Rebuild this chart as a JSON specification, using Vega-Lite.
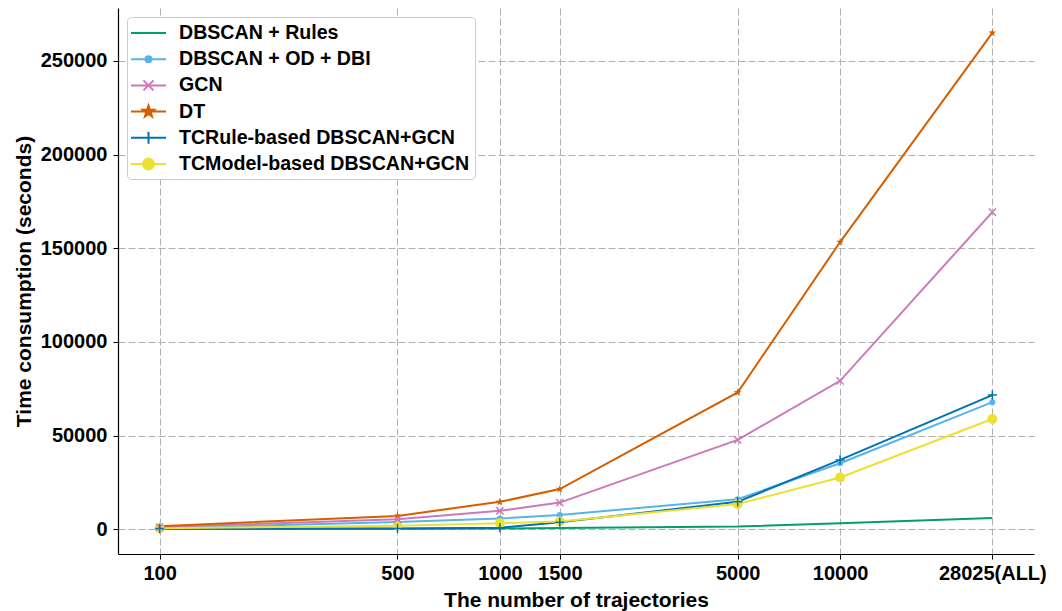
{
  "$schema": "https://vega.github.io/schema/vega-lite/v6.json",
  "width": 916,
  "height": 546,
  "autosize": {"type": "none"},
  "padding": {"left": 118, "top": 8, "right": 28, "bottom": 57},
  "background": "white",
  "config": {
    "view": {"stroke": null},
    "font": "Liberation Sans",
    "axis": {
      "domainColor": "black",
      "domainWidth": 1.2,
      "tickColor": "black",
      "tickSize": 5,
      "tickWidth": 1,
      "labelFont": "Liberation Sans",
      "labelFontSize": 20,
      "labelFontWeight": "bold",
      "labelColor": "black",
      "titleFont": "Liberation Sans",
      "titleFontSize": 21,
      "titleFontWeight": "bold",
      "titleColor": "black",
      "grid": true,
      "gridColor": "#b0b0b0",
      "gridDash": [7, 3],
      "gridWidth": 1
    }
  },
  "data": {
    "values": [
      {"method": "DBSCAN + Rules", "n": 100, "time": 100},
      {"method": "DBSCAN + Rules", "n": 500, "time": 200},
      {"method": "DBSCAN + Rules", "n": 1000, "time": 400},
      {"method": "DBSCAN + Rules", "n": 1500, "time": 600},
      {"method": "DBSCAN + Rules", "n": 5000, "time": 1400},
      {"method": "DBSCAN + Rules", "n": 10000, "time": 3200},
      {"method": "DBSCAN + Rules", "n": 28025, "time": 6000},
      {"method": "DBSCAN + OD + DBI", "n": 100, "time": 500},
      {"method": "DBSCAN + OD + DBI", "n": 500, "time": 3900},
      {"method": "DBSCAN + OD + DBI", "n": 1000, "time": 5700},
      {"method": "DBSCAN + OD + DBI", "n": 1500, "time": 7600},
      {"method": "DBSCAN + OD + DBI", "n": 5000, "time": 16000},
      {"method": "DBSCAN + OD + DBI", "n": 10000, "time": 35200},
      {"method": "DBSCAN + OD + DBI", "n": 28025, "time": 67800},
      {"method": "GCN", "n": 100, "time": 1100},
      {"method": "GCN", "n": 500, "time": 5300},
      {"method": "GCN", "n": 1000, "time": 9800},
      {"method": "GCN", "n": 1500, "time": 14200},
      {"method": "GCN", "n": 5000, "time": 47700},
      {"method": "GCN", "n": 10000, "time": 79200},
      {"method": "GCN", "n": 28025, "time": 169300},
      {"method": "DT", "n": 100, "time": 1600},
      {"method": "DT", "n": 500, "time": 7100},
      {"method": "DT", "n": 1000, "time": 14600},
      {"method": "DT", "n": 1500, "time": 21400},
      {"method": "DT", "n": 5000, "time": 73000},
      {"method": "DT", "n": 10000, "time": 153300},
      {"method": "DT", "n": 28025, "time": 265000},
      {"method": "TCRule-based DBSCAN+GCN", "n": 100, "time": 300},
      {"method": "TCRule-based DBSCAN+GCN", "n": 500, "time": 400},
      {"method": "TCRule-based DBSCAN+GCN", "n": 1000, "time": 800},
      {"method": "TCRule-based DBSCAN+GCN", "n": 1500, "time": 3700},
      {"method": "TCRule-based DBSCAN+GCN", "n": 5000, "time": 14600},
      {"method": "TCRule-based DBSCAN+GCN", "n": 10000, "time": 37000},
      {"method": "TCRule-based DBSCAN+GCN", "n": 28025, "time": 71600},
      {"method": "TCModel-based DBSCAN+GCN", "n": 100, "time": 500},
      {"method": "TCModel-based DBSCAN+GCN", "n": 500, "time": 1800},
      {"method": "TCModel-based DBSCAN+GCN", "n": 1000, "time": 3200},
      {"method": "TCModel-based DBSCAN+GCN", "n": 1500, "time": 4100},
      {"method": "TCModel-based DBSCAN+GCN", "n": 5000, "time": 13400},
      {"method": "TCModel-based DBSCAN+GCN", "n": 10000, "time": 27600},
      {"method": "TCModel-based DBSCAN+GCN", "n": 28025, "time": 58800}
    ]
  },
  "encoding": {
    "x": {
      "field": "n",
      "type": "quantitative",
      "scale": {"type": "log", "domain": [75.42, 37154], "nice": false},
      "axis": {
        "values": [100, 500, 1000, 1500, 5000, 10000, 28025],
        "labelExpr": "datum.value == 28025 ? '28025(ALL)' : format(datum.value, 'd')",
        "labelPadding": 4,
        "titlePadding": 6,
        "labelFlush": false,
        "labelOverlap": false
      },
      "title": "The number of trajectories"
    },
    "y": {
      "field": "time",
      "type": "quantitative",
      "scale": {"domain": [-13250, 278250], "nice": false, "zero": false},
      "axis": {
        "values": [0, 50000, 100000, 150000, 200000, 250000],
        "format": "d",
        "labelPadding": 6,
        "titlePadding": 6,
        "labelOverlap": false
      },
      "title": "Time consumption (seconds)"
    }
  },
  "layer": [
    {
      "mark": {"type": "line", "strokeWidth": 2},
      "encoding": {
        "color": {
          "field": "method",
          "type": "nominal",
          "sort": null,
          "scale": {
            "domain": ["DBSCAN + Rules", "DBSCAN + OD + DBI", "GCN", "DT", "TCRule-based DBSCAN+GCN", "TCModel-based DBSCAN+GCN"],
            "range": ["#029E73", "#56B4E9", "#CC78BC", "#D55E00", "#0173B2", "#ECE133"]
          },
          "legend": {
            "title": null,
            "orient": "top-left",
            "offset": 9,
            "padding": 5,
            "rowPadding": 5.2,
            "strokeColor": "#cccccc",
            "fillColor": "white",
            "cornerRadius": 4,
            "labelFont": "Liberation Sans",
            "labelFontSize": 19.6,
            "labelFontWeight": "bold",
            "labelColor": "black",
            "labelLimit": 0,
            "labelOffset": 25,
            "symbolSize": 400,
            "symbolStrokeWidth": 2,
            "encode": {
              "symbols": {
                "update": {
                  "shape": {"signal": "datum.value === 'DBSCAN + Rules' ? 'M-1.2,0H2.3' : datum.value === 'DBSCAN + OD + DBI' ? 'M-1.2,0H2.3M0.85,0A0.3,0.3 0 1,1 0.25,0A0.3,0.3 0 1,1 0.85,0Z' : datum.value === 'GCN' ? 'M-1.2,0H2.3M0.05,-0.5L1.05,0.5M0.05,0.5L1.05,-0.5' : datum.value === 'DT' ? 'M-1.2,0H2.3M0.55,-0.6L0.691,-0.194L1.121,-0.185L0.778,0.074L0.903,0.485L0.55,0.24L0.197,0.485L0.322,0.074L-0.021,-0.185L0.409,-0.194Z' : datum.value === 'TCRule-based DBSCAN+GCN' ? 'M-1.2,0H2.3M0.55,-0.6V0.6' : 'M-1.2,0H2.3M1.1,0A0.55,0.55 0 1,1 0,0A0.55,0.55 0 1,1 1.1,0Z'"},
                  "size": {"value": 400},
                  "stroke": {"scale": "color", "field": "value"},
                  "fill": {"scale": "color", "field": "value"},
                  "fillOpacity": {"signal": "indexof(['DBSCAN + OD + DBI', 'DT', 'TCModel-based DBSCAN+GCN'], datum.value) >= 0 ? 1 : 0"},
                  "strokeWidth": {"value": 2},
                  "opacity": {"value": 1}
                }
              }
            }
          }
        }
      }
    },
    {
      "transform": [{"filter": {"field": "method", "oneOf": ["DBSCAN + OD + DBI", "DT", "TCModel-based DBSCAN+GCN"]}}],
      "mark": {"type": "point", "filled": true, "opacity": 1},
      "encoding": {
        "color": {
          "field": "method",
          "type": "nominal",
          "sort": null,
          "scale": {
            "domain": ["DBSCAN + Rules", "DBSCAN + OD + DBI", "GCN", "DT", "TCRule-based DBSCAN+GCN", "TCModel-based DBSCAN+GCN"],
            "range": ["#029E73", "#56B4E9", "#CC78BC", "#D55E00", "#0173B2", "#ECE133"]
          }
        },
        "shape": {
          "field": "method",
          "type": "nominal",
          "scale": {
            "domain": ["DBSCAN + OD + DBI", "GCN", "DT", "TCRule-based DBSCAN+GCN", "TCModel-based DBSCAN+GCN"],
            "range": ["circle", "M-1,-1L1,1M-1,1L1,-1", "M0,-1L0.235,-0.324L0.951,-0.309L0.380,0.124L0.588,0.809L0,0.4L-0.588,0.809L-0.380,0.124L-0.951,-0.309L-0.235,-0.324Z", "M-1,0H1M0,-1V1", "circle"]
          },
          "legend": null
        },
        "size": {
          "field": "method",
          "type": "nominal",
          "scale": {
            "domain": ["DBSCAN + OD + DBI", "GCN", "DT", "TCRule-based DBSCAN+GCN", "TCModel-based DBSCAN+GCN"],
            "range": [36, 100, 170, 110, 121]
          },
          "legend": null
        }
      }
    },
    {
      "transform": [{"filter": {"field": "method", "oneOf": ["GCN", "TCRule-based DBSCAN+GCN"]}}],
      "mark": {"type": "point", "filled": false, "strokeWidth": 1.5, "opacity": 1},
      "encoding": {
        "color": {
          "field": "method",
          "type": "nominal",
          "sort": null,
          "scale": {
            "domain": ["DBSCAN + Rules", "DBSCAN + OD + DBI", "GCN", "DT", "TCRule-based DBSCAN+GCN", "TCModel-based DBSCAN+GCN"],
            "range": ["#029E73", "#56B4E9", "#CC78BC", "#D55E00", "#0173B2", "#ECE133"]
          }
        },
        "shape": {
          "field": "method",
          "type": "nominal",
          "scale": {
            "domain": ["DBSCAN + OD + DBI", "GCN", "DT", "TCRule-based DBSCAN+GCN", "TCModel-based DBSCAN+GCN"],
            "range": ["circle", "M-1,-1L1,1M-1,1L1,-1", "M0,-1L0.235,-0.324L0.951,-0.309L0.380,0.124L0.588,0.809L0,0.4L-0.588,0.809L-0.380,0.124L-0.951,-0.309L-0.235,-0.324Z", "M-1,0H1M0,-1V1", "circle"]
          },
          "legend": null
        },
        "size": {
          "field": "method",
          "type": "nominal",
          "scale": {
            "domain": ["DBSCAN + OD + DBI", "GCN", "DT", "TCRule-based DBSCAN+GCN", "TCModel-based DBSCAN+GCN"],
            "range": [36, 100, 170, 110, 121]
          },
          "legend": null
        }
      }
    }
  ]
}
